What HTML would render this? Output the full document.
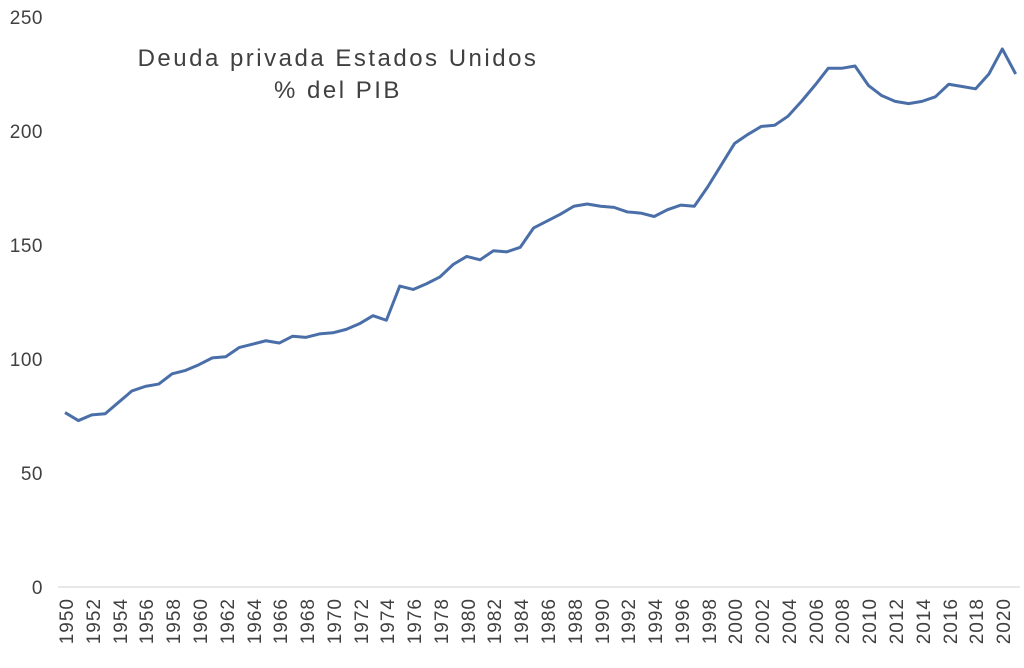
<!DOCTYPE html>
<html><head><meta charset="utf-8"><style>
html,body{margin:0;padding:0;background:#fff;}
svg{display:block;font-family:"Liberation Sans",sans-serif;}
</style></head><body>
<svg width="1024" height="668" viewBox="0 0 1024 668" xmlns="http://www.w3.org/2000/svg">
<rect width="1024" height="668" fill="#fff"/>
<g fill="#404040" font-size="19" text-anchor="end" letter-spacing="0.5">
<text x="43" y="594">0</text>
<text x="43" y="480">50</text>
<text x="43" y="366">100</text>
<text x="43" y="252">150</text>
<text x="43" y="138">200</text>
<text x="43" y="24">250</text>
</g>
<line x1="58" y1="587" x2="1020" y2="587" stroke="#d0d0d0" stroke-width="1"/>
<g fill="#404040" font-size="19" text-anchor="end" letter-spacing="1">
<text transform="translate(73,598) rotate(-90)">1950</text>
<text transform="translate(100,598) rotate(-90)">1952</text>
<text transform="translate(127,598) rotate(-90)">1954</text>
<text transform="translate(153,598) rotate(-90)">1956</text>
<text transform="translate(180,598) rotate(-90)">1958</text>
<text transform="translate(207,598) rotate(-90)">1960</text>
<text transform="translate(234,598) rotate(-90)">1962</text>
<text transform="translate(261,598) rotate(-90)">1964</text>
<text transform="translate(287,598) rotate(-90)">1966</text>
<text transform="translate(314,598) rotate(-90)">1968</text>
<text transform="translate(341,598) rotate(-90)">1970</text>
<text transform="translate(368,598) rotate(-90)">1972</text>
<text transform="translate(394,598) rotate(-90)">1974</text>
<text transform="translate(421,598) rotate(-90)">1976</text>
<text transform="translate(448,598) rotate(-90)">1978</text>
<text transform="translate(475,598) rotate(-90)">1980</text>
<text transform="translate(501,598) rotate(-90)">1982</text>
<text transform="translate(528,598) rotate(-90)">1984</text>
<text transform="translate(555,598) rotate(-90)">1986</text>
<text transform="translate(582,598) rotate(-90)">1988</text>
<text transform="translate(609,598) rotate(-90)">1990</text>
<text transform="translate(635,598) rotate(-90)">1992</text>
<text transform="translate(662,598) rotate(-90)">1994</text>
<text transform="translate(689,598) rotate(-90)">1996</text>
<text transform="translate(716,598) rotate(-90)">1998</text>
<text transform="translate(742,598) rotate(-90)">2000</text>
<text transform="translate(769,598) rotate(-90)">2002</text>
<text transform="translate(796,598) rotate(-90)">2004</text>
<text transform="translate(823,598) rotate(-90)">2006</text>
<text transform="translate(849,598) rotate(-90)">2008</text>
<text transform="translate(876,598) rotate(-90)">2010</text>
<text transform="translate(903,598) rotate(-90)">2012</text>
<text transform="translate(930,598) rotate(-90)">2014</text>
<text transform="translate(957,598) rotate(-90)">2016</text>
<text transform="translate(983,598) rotate(-90)">2018</text>
<text transform="translate(1010,598) rotate(-90)">2020</text>
</g>
<g fill="#404040" font-size="24" text-anchor="middle" letter-spacing="2.5">
<text x="338" y="66">Deuda privada Estados Unidos</text>
<text x="338" y="98">% del PIB</text>
</g>
<g transform="translate(65,587) scale(13.39,-2.28)">
<polyline fill="none" stroke="#4a6fa8" stroke-width="3" stroke-linejoin="round" vector-effect="non-scaling-stroke" points="0,76.5 1,73 2,75.5 3,76 4,81 5,86 6,88 7,89 8,93.5 9,95 10,97.5 11,100.5 12,101 13,105 14,106.5 15,108 16,107 17,110 18,109.5 19,111 20,111.5 21,113 22,115.5 23,119 24,117 25,132 26,130.5 27,133 28,136 29,141.5 30,145 31,143.5 32,147.5 33,147 34,149 35,157.5 36,160.5 37,163.5 38,167 39,168 40,167 41,166.5 42,164.5 43,164 44,162.5 45,165.5 46,167.5 47,167 48,175.5 49,185 50,194.5 51,198.5 52,202 53,202.5 54,206.5 55,213 56,220 57,227.5 58,227.5 59,228.5 60,220 61,215.5 62,213 63,212 64,213 65,215 66,220.5 67,219.5 68,218.5 69,225 70,236 71,225"/>
</g>
</svg>
</body></html>
